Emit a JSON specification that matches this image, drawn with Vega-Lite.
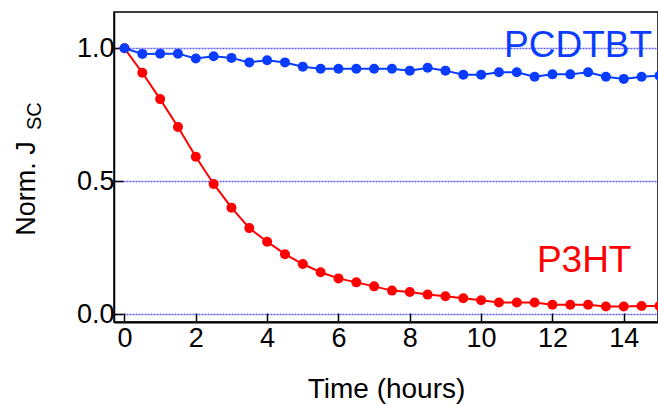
{
  "$schema": "https://vega.github.io/schema/vega-lite/v6.json",
  "width": 544,
  "height": 310,
  "autosize": {"type": "none"},
  "padding": {"left": 114, "top": 12, "right": 0, "bottom": 83},
  "background": "white",
  "config": {
    "view": {"stroke": "black", "strokeWidth": 1.5},
    "font": "Liberation Sans"
  },
  "datasets": {
    "series": [
      {"film": "P3HT", "t": 0, "v": 1.0},
      {"film": "P3HT", "t": 0.5, "v": 0.908},
      {"film": "P3HT", "t": 1.0, "v": 0.809},
      {"film": "P3HT", "t": 1.5, "v": 0.704},
      {"film": "P3HT", "t": 2.0, "v": 0.592},
      {"film": "P3HT", "t": 2.5, "v": 0.49},
      {"film": "P3HT", "t": 3.0, "v": 0.401},
      {"film": "P3HT", "t": 3.5, "v": 0.324},
      {"film": "P3HT", "t": 4.0, "v": 0.273},
      {"film": "P3HT", "t": 4.5, "v": 0.226},
      {"film": "P3HT", "t": 5.0, "v": 0.189},
      {"film": "P3HT", "t": 5.5, "v": 0.158},
      {"film": "P3HT", "t": 6.0, "v": 0.135},
      {"film": "P3HT", "t": 6.5, "v": 0.12},
      {"film": "P3HT", "t": 7.0, "v": 0.105},
      {"film": "P3HT", "t": 7.5, "v": 0.089},
      {"film": "P3HT", "t": 8.0, "v": 0.084},
      {"film": "P3HT", "t": 8.5, "v": 0.074},
      {"film": "P3HT", "t": 9.0, "v": 0.068},
      {"film": "P3HT", "t": 9.5, "v": 0.06},
      {"film": "P3HT", "t": 10.0, "v": 0.053},
      {"film": "P3HT", "t": 10.5, "v": 0.044},
      {"film": "P3HT", "t": 11.0, "v": 0.044},
      {"film": "P3HT", "t": 11.5, "v": 0.044},
      {"film": "P3HT", "t": 12.0, "v": 0.036},
      {"film": "P3HT", "t": 12.5, "v": 0.036},
      {"film": "P3HT", "t": 13.0, "v": 0.036},
      {"film": "P3HT", "t": 13.5, "v": 0.029},
      {"film": "P3HT", "t": 14.0, "v": 0.029},
      {"film": "P3HT", "t": 14.5, "v": 0.031},
      {"film": "P3HT", "t": 15.0, "v": 0.031},
      {"film": "PCDTBT", "t": 0, "v": 1.0},
      {"film": "PCDTBT", "t": 0.5, "v": 0.979},
      {"film": "PCDTBT", "t": 1.0, "v": 0.98},
      {"film": "PCDTBT", "t": 1.5, "v": 0.98},
      {"film": "PCDTBT", "t": 2.0, "v": 0.962},
      {"film": "PCDTBT", "t": 2.5, "v": 0.97},
      {"film": "PCDTBT", "t": 3.0, "v": 0.964},
      {"film": "PCDTBT", "t": 3.5, "v": 0.947},
      {"film": "PCDTBT", "t": 4.0, "v": 0.955},
      {"film": "PCDTBT", "t": 4.5, "v": 0.947},
      {"film": "PCDTBT", "t": 5.0, "v": 0.931},
      {"film": "PCDTBT", "t": 5.5, "v": 0.923},
      {"film": "PCDTBT", "t": 6.0, "v": 0.923},
      {"film": "PCDTBT", "t": 6.5, "v": 0.923},
      {"film": "PCDTBT", "t": 7.0, "v": 0.923},
      {"film": "PCDTBT", "t": 7.5, "v": 0.923},
      {"film": "PCDTBT", "t": 8.0, "v": 0.916},
      {"film": "PCDTBT", "t": 8.5, "v": 0.927},
      {"film": "PCDTBT", "t": 9.0, "v": 0.916},
      {"film": "PCDTBT", "t": 9.5, "v": 0.901},
      {"film": "PCDTBT", "t": 10.0, "v": 0.901},
      {"film": "PCDTBT", "t": 10.5, "v": 0.91},
      {"film": "PCDTBT", "t": 11.0, "v": 0.91},
      {"film": "PCDTBT", "t": 11.5, "v": 0.893},
      {"film": "PCDTBT", "t": 12.0, "v": 0.902},
      {"film": "PCDTBT", "t": 12.5, "v": 0.902},
      {"film": "PCDTBT", "t": 13.0, "v": 0.91},
      {"film": "PCDTBT", "t": 13.5, "v": 0.893},
      {"film": "PCDTBT", "t": 14.0, "v": 0.885},
      {"film": "PCDTBT", "t": 14.5, "v": 0.893},
      {"film": "PCDTBT", "t": 15.0, "v": 0.897}
    ],
    "labels": [
      {"film": "PCDTBT", "t": 12.72, "v": 0.967},
      {"film": "P3HT", "t": 12.89, "v": 0.159}
    ],
    "sub": [
      {"text": "SC", "t": -2.33, "v": 0.745}
    ]
  },
  "encoding": {
    "x": {
      "field": "t",
      "type": "quantitative",
      "scale": {"domain": [-0.294, 14.96], "nice": false, "zero": false},
      "axis": {
        "values": [0, 2, 4, 6, 8, 10, 12, 14],
        "title": "Time (hours)",
        "grid": false,
        "tickSize": -9,
        "tickWidth": 1.5,
        "tickColor": "black",
        "domainColor": "black",
        "domainWidth": 2,
        "labelFontSize": 27,
        "labelColor": "black",
        "labelPadding": 12,
        "labelFlush": false,
        "titleFontSize": 28,
        "titleFontWeight": "normal",
        "titleColor": "black",
        "titleY": 75,
        "titleBaseline": "alphabetic"
      }
    },
    "y": {
      "field": "v",
      "type": "quantitative",
      "scale": {"domain": [-0.029, 1.1365], "nice": false, "zero": false},
      "axis": {
        "values": [0, 0.5, 1],
        "format": ".1f",
        "title": "Norm. J",
        "grid": true,
        "gridColor": "#5a5aff",
        "gridDash": [2, 1],
        "gridWidth": 1.5,
        "tickSize": -9,
        "tickWidth": 1.5,
        "tickColor": "black",
        "domainColor": "black",
        "domainWidth": 1.5,
        "labelFontSize": 27,
        "labelColor": "black",
        "labelPadding": 9,
        "labelFlush": false,
        "titleFontSize": 27,
        "titleFontWeight": "normal",
        "titleColor": "black",
        "titleAngle": 270,
        "titleX": -80,
        "titleY": 176,
        "titleAlign": "center",
        "titleBaseline": "alphabetic"
      }
    }
  },
  "layer": [
    {
      "data": {"name": "series"},
      "mark": {"type": "line", "strokeWidth": 2, "clip": true},
      "encoding": {
        "color": {"field": "film", "type": "nominal", "legend": null,
          "scale": {"domain": ["P3HT", "PCDTBT"], "range": ["#ff0000", "#0a3cff"]}}
      }
    },
    {
      "data": {"name": "series"},
      "mark": {"type": "point", "filled": true, "size": 100, "opacity": 1, "clip": true},
      "encoding": {
        "color": {"field": "film", "type": "nominal", "legend": null}
      }
    },
    {
      "data": {"name": "labels"},
      "mark": {"type": "text", "fontSize": 37, "align": "center", "baseline": "alphabetic"},
      "encoding": {
        "text": {"field": "film"},
        "color": {"field": "film", "type": "nominal", "legend": null}
      }
    },
    {
      "data": {"name": "sub"},
      "mark": {"type": "text", "fontSize": 20, "angle": 270, "align": "center", "baseline": "alphabetic", "clip": false, "color": "black"},
      "encoding": {
        "text": {"field": "text"}
      }
    }
  ]
}
